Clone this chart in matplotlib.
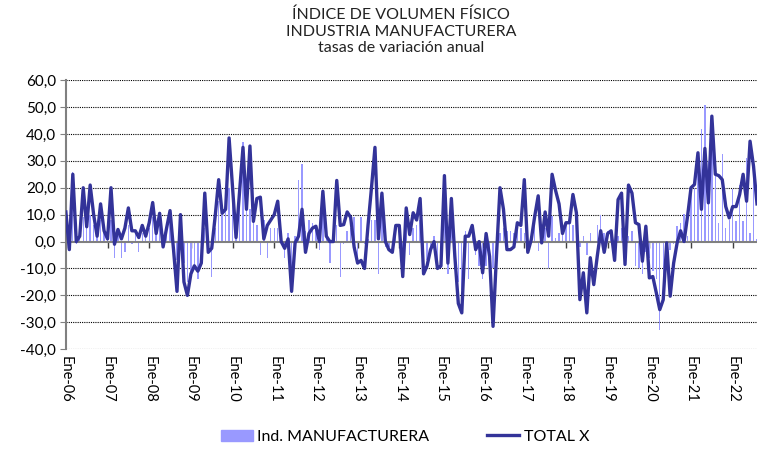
import numpy as np
import matplotlib
matplotlib.use("Agg")
import matplotlib.pyplot as plt
from matplotlib.patches import Patch
from matplotlib.lines import Line2D

plt.rcParams['font.family'] = ['Lato', 'DejaVu Sans']

# monthly series, Jan 2006 onwards
total_x = [
    11, -3, 25, 0, 2, 20, 5.5, 21, 10, 2, 14, 4,
    1, 20, -1, 4.5, 1, 5, 12.5, 4, 4, 1.5, 6, 2,
    7, 14.5, 3, 10.5, -2, 5, 11.5, -3, -18.5, 10, -15, -20,
    -12, -9, -11, -8, 18, -4, -2.5, 9.5, 23, 10.5, 12, 38.5,
    20, 1.5, 18, 35, 12, 35.5, 7.5, 16, 16.5, 1, 6, 8,
    10, 15, 0, -2.5, 1, -18.5, -0.5, 2, 12, -4, 3, 5,
    5.7, 0, 18.7, 2, 0, 0, 22.7, 6, 6.3, 11, 9, -2,
    -8, -7, -10, 6, 20, 35, 1, 18, 0, -3, -4, 6,
    6, -13, 12.5, 2.6, 10.7, 8, 16, -12, -9, -3, 0, -10,
    -9, 24.5, -8, 16, -5.5, -23, -26.5, 2, 2, 6, -3, 0,
    -11.6, 3, -5.5, -31.5, -5, 20, 12, -3, -3, -2, 7, 6,
    23, -4, 0.7, 9.4, 17, -0.5, 11, 2, 25, 19, 14, 3,
    7, 7, 17.5, 10.7, -21.6, -11.6, -26.5, -6, -16, -5.5, 4, -4,
    3, 4, -7, 15.6, 18, -8.5, 21, 18, 7, 6.3, -7.3, 5.7,
    -13.5, -13, -19, -25.3, -21.6, -0.5, -20.3, -8, -0.5, 4, 0, 9.4,
    20, 21.2, 33, 12, 34.6, 14.4, 46.6, 25, 24.5, 23, 13, 8.8,
    13, 13, 17.5, 25, 15, 37.3, 28, 14,
]

manufacturera = [
    10, 2, 26, -1, 5, 9, 7, 10, 6, 4, 8, 5,
    3, 8, -6, 2, -6, -4, 6, -1, 4, -4, 3, 2,
    5, 9, 4, 8, 2, 6, 9, 1, -7, -3, -8, -15,
    -13, -10, -14, -8, 5, -2, -13, 5, 15, 10, 12, 20,
    15, 8, 20, 37, 14, 12, 10, 6, -5, 8, -6, 5,
    5, 5, 2, -6, 3, -10, 2, 23, 29, 4, 8, 7,
    6, -3, 10, 3, -8, 2, 6, -13, -1, 4, 5, 9,
    -6, 9, -1, 1, 8, 8, -12, 10, -2, -2, -4, 5,
    4, -11, 6, -5, 5, 6, 8, -10, -7, -3, 2, -10,
    -10, 10, -12, 5, -2, -15, -18, 4, -14, 5, -5, -9,
    -14, -9, -6, -10, 3, 3, 5, 4, 4, 3, 6, 5,
    3, 2, 4, 6, -3.5, 5, 5, -10, 9.4, 1.5, 3, 3,
    6, 7, 6, 8, -2, 2, -5, 3, 0, 6, 10, 3,
    4, 3, -3, 2, 5, -2, 2, 4, -9, -10, -12, -4,
    -6, -11, -14, -33, -13, -2, -3, -1, 5.7, 7, 10.4, 2,
    18.7, 20, 30, 42, 50.6, 30, 35, 25, 7, 32.5, 5, 8,
    19.6, 7.5, 21, 7.5, 31, 3, 28, 1,
]

years = list(range(6, 23))
year_labels = ['Ene-%02d' % y for y in years]
title_lines = ['ÍNDICE DE VOLUMEN FÍSICO', 'INDUSTRIA MANUFACTURERA',
               'tasas de variación anual']

bar_color = '#9999ff'
line_color = '#333399'

x = np.arange(len(total_x))

fig = plt.figure(figsize=(7.57, 4.5), dpi=100)
ax = fig.add_axes([0.087, 0.224, 0.913, 0.598])

ax.bar(x, manufacturera, width=0.4, color=bar_color, zorder=2)
ax.plot(x, total_x, color=line_color, lw=2.4, zorder=3,
        solid_joinstyle='round')

ax.set_ylim(-40, 60)
ax.set_xlim(0, len(total_x) - 1)
yt = np.arange(-40, 61, 10)
ax.set_yticks(yt)
ax.set_yticklabels([('%.1f' % v).replace('.', ',') for v in yt], fontsize=11)
for v in yt:
    if v != 0:
        ax.axhline(v, color='black', lw=0.8, ls=(0, (1, 1)), zorder=1)
ax.axhline(0, color='#808080', lw=1.5, zorder=2.5)

xt = np.arange(0, len(total_x), 12)[:len(year_labels)]
ax.set_xticks(xt)
ax.set_xticklabels(year_labels, rotation=-90, fontsize=10.5)
ax.tick_params(axis='x', length=0, pad=5)
ax.tick_params(axis='y', length=4, color='#808080', pad=3)

# tick marks along the zero line
zero_axis = ax.secondary_xaxis(0.4)
zero_axis.set_xticks(xt)
zero_axis.set_xticklabels([])
zero_axis.tick_params(length=4, color='#404040', width=1)
zero_axis.spines['bottom'].set_visible(False)

for s in ['top', 'right', 'bottom']:
    ax.spines[s].set_visible(False)
ax.spines['left'].set_color('#808080')
ax.spines['left'].set_linewidth(1.5)

for line, ypos in zip(title_lines, [0.967, 0.929, 0.893]):
    fig.text(0.53, ypos, line, ha='center', va='center', fontsize=11.5,
             color='#222222')

handles = [Patch(color=bar_color), Line2D([], [], color=line_color, lw=2.4)]
fig.legend(handles, ['Ind. MANUFACTURERA', 'TOTAL X'], loc='center',
           bbox_to_anchor=(0.535, 0.029), ncol=2, frameon=False,
           fontsize=11.5, columnspacing=3.6, handlelength=2.0, handletextpad=0.3)

fig.savefig('out.png', dpi=100)
